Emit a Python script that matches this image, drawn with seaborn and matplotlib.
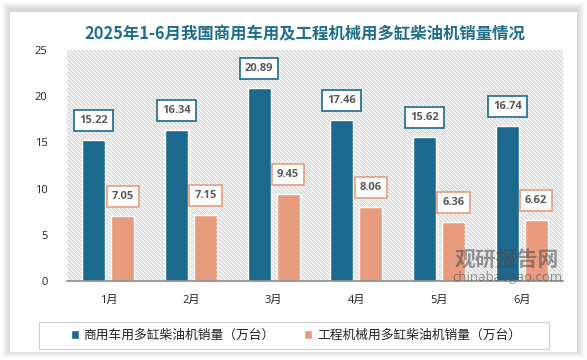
import seaborn as sns
import pandas as pd
import matplotlib.pyplot as plt
from matplotlib.patches import Rectangle
from matplotlib.collections import LineCollection
from matplotlib.transforms import IdentityTransform

months = ['1月', '2月', '3月', '4月', '5月', '6月']
commercial = [15.22, 16.34, 20.89, 17.46, 15.62, 16.74]
engineering = [7.05, 7.15, 9.45, 8.06, 6.36, 6.62]
series = ['商用车用多缸柴油机销量（万台）', '工程机械用多缸柴油机销量（万台）']
colors = ['#1b6a8e', '#e89c7d']

df = pd.DataFrame({
    'month': months * 2,
    'value': commercial + engineering,
    'series': [series[0]] * len(months) + [series[1]] * len(months),
})

sns.set_style('white')
plt.rcParams['font.family'] = ['Open Sans', 'Noto Sans CJK SC', 'DejaVu Sans']

fig = plt.figure(figsize=(5.87, 3.6), dpi=100)
fig.patch.set_facecolor('white')

# soft card shadow + white card
W, H = 587, 360
x0, y0, x1, y1 = 10, 8, 577, 348
for i in range(8, 0, -1):
    fig.patches.append(Rectangle(((x0 - i) / W, (y0 - i + 2) / H), (x1 - x0 + 2 * i) / W,
                                 (y1 - y0 + 2 * i) / H, transform=fig.transFigure,
                                 facecolor='#000000', alpha=0.018, lw=0, zorder=-3))
fig.patches.append(Rectangle((x0 / W, y0 / H), (x1 - x0) / W, (y1 - y0) / H,
                             transform=fig.transFigure, facecolor='white', lw=0, zorder=-2))

L, R, B, T = 67, 563, 79, 310
ax = fig.add_axes([L / W, B / H, (R - L) / W, (T - B) / H])
ax.patch.set_facecolor('white')

# diagonal stripe background, drawn in pixel space
segs = []
for c in range(L + B - 2, R + T + 2, 4):
    segs.append([(c - T, T), (c - B, B)])
stripes = LineCollection(segs, colors='#e0e0e0', linewidths=0.72, antialiaseds=False,
                         transform=IdentityTransform(), zorder=0)
ax.add_collection(stripes, autolim=False)
stripes.set_clip_path(ax.patch)

sns.barplot(data=df, x='month', y='value', hue='series', palette=colors, ax=ax,
            width=0.7, gap=0.2, edgecolor='white', linewidth=1, saturation=1, zorder=2)

ax.set_ylim(0, 25)
ax.set_yticks(range(0, 26, 5))
ax.set_xlim(-0.5, 5.5)
ax.set_xlabel('')
ax.set_ylabel('')
for s in ['top', 'right', 'left']:
    ax.spines[s].set_visible(False)
ax.spines['bottom'].set_color('#8c8c8c')
ax.spines['bottom'].set_linewidth(1.2)
ax.tick_params(axis='both', length=0, labelsize=8, colors='#222222')
ax.tick_params(axis='y', pad=14)
ax.tick_params(axis='x', pad=10)

for cont, col in zip(ax.containers, colors):
    for bar in cont:
        h = bar.get_height()
        ax.annotate(f'{h:.2f}', (bar.get_x() + bar.get_width() / 2, h),
                    xytext=(0, 14), textcoords='offset points', ha='center', va='center',
                    fontsize=8, fontweight='bold', color='#595959', zorder=5,
                    bbox=dict(boxstyle='square,pad=0.45', facecolor='white', edgecolor=col, lw=1.2))

handles, labels = ax.get_legend_handles_labels()
ax.get_legend().remove()
fig.patches.append(Rectangle((39 / W, 11 / H), (549 - 39) / W, 27 / H, transform=fig.transFigure,
                             facecolor='white', edgecolor='#d0d0d0', lw=0.8, zorder=1))
leg = fig.legend(handles, labels, loc='center', bbox_to_anchor=(296 / W, 24.5 / H),
                 ncol=2, frameon=False, fontsize=9.2, handlelength=0.6, handleheight=0.6,
                 handletextpad=0.4, columnspacing=2.3, borderpad=0)
for t in leg.get_texts():
    t.set_color('#222222')

fig.text(305 / W, 1 - 34 / H, '2025年1-6月我国商用车用及工程机械用多缸柴油机销量情况',
         ha='center', va='center', fontsize=11.8, fontweight='bold', color='#1f6e8c',
         family=['Noto Sans CJK SC', 'DejaVu Sans'])

# watermark
fig.text(507 / W, 1 - 259 / H, '观研报告网', ha='center', va='center', fontsize=15,
         fontweight='bold', color='#4a4a4a', alpha=0.55, family=['Noto Sans CJK SC'], zorder=10)
fig.text(507 / W, 1 - 277 / H, 'chinabaogao.com', ha='center', va='center', fontsize=9.5,
         color='#4a4a4a', alpha=0.55, zorder=10)

fig.savefig('out.png', dpi=100)
